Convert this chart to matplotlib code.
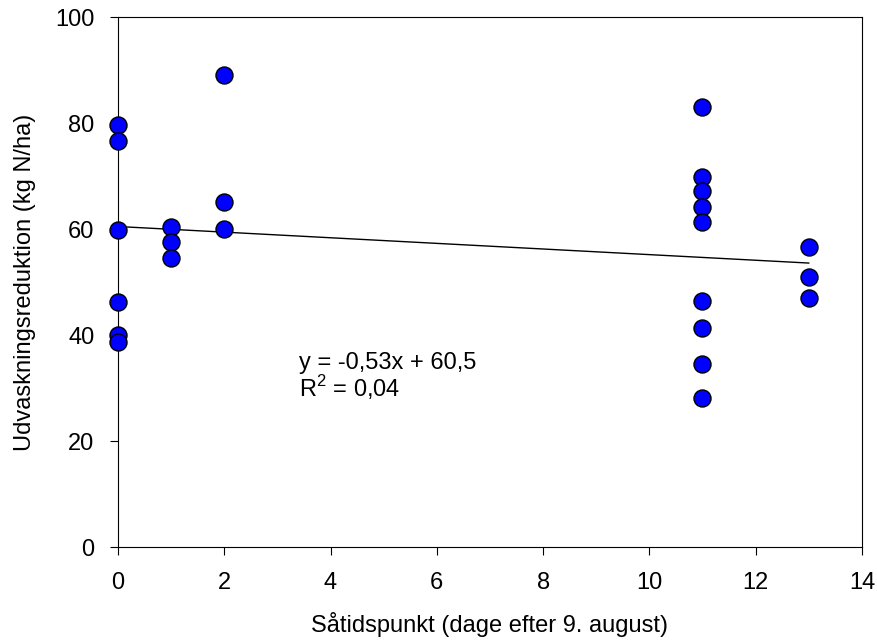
import matplotlib
matplotlib.use("Agg")
import matplotlib.pyplot as plt

plt.rcParams['font.family'] = ['Liberation Sans', 'DejaVu Sans']
plt.rcParams['mathtext.fontset'] = 'custom'
plt.rcParams['mathtext.rm'] = 'Liberation Sans'

# Såtidspunkt (dage efter 9. august) og udvaskningsreduktion (kg N/ha)
dage = [0, 0, 0, 0, 0, 0,
        1, 1, 1,
        2, 2, 2,
        11, 11, 11, 11, 11, 11, 11, 11, 11,
        13, 13, 13]
reduktion = [79.7, 76.6, 59.9, 46.2, 40.1, 38.8,
             60.5, 57.5, 54.5,
             89.0, 65.1, 60.1,
             83.0, 69.8, 67.2, 64.2, 61.4, 46.4, 41.3, 34.6, 28.2,
             56.7, 50.9, 47.1]

# regressionslinje
haeldning = -0.53
skaering = 60.5
linje_x = [0, 13]

fig = plt.figure(figsize=(8.77, 6.44), dpi=100)
ax = fig.add_axes([0.1345, 0.15, 0.8483, 0.8236])

linje_y = [haeldning * x + skaering for x in linje_x]
ax.plot(linje_x, linje_y, color='black', lw=1, zorder=2)
ax.scatter(dage, reduktion, s=150, color='#0000ff', edgecolor='black',
           linewidth=1, zorder=3, clip_on=False)

ax.set_xlim(0, 14)
ax.set_ylim(0, 100)
ax.set_xticks(range(0, 15, 2))
ax.set_yticks(range(0, 101, 20))
ax.tick_params(direction='out', length=6, labelsize=17)
ax.tick_params(axis='x', pad=12)
ax.tick_params(axis='y', pad=11)

ax.set_xlabel('Såtidspunkt (dage efter 9. august)', fontsize=17, labelpad=13)
ax.set_ylabel('Udvaskningsreduktion (kg N/ha)', fontsize=17, labelpad=14)

ax.text(3.41, 33.6, 'y = -0,53x + 60,5', fontsize=17, va='baseline')
ax.text(3.41, 28.3, 'R$^2$ = 0,04', fontsize=17, va='baseline')

fig.savefig('out.png', dpi=100)
